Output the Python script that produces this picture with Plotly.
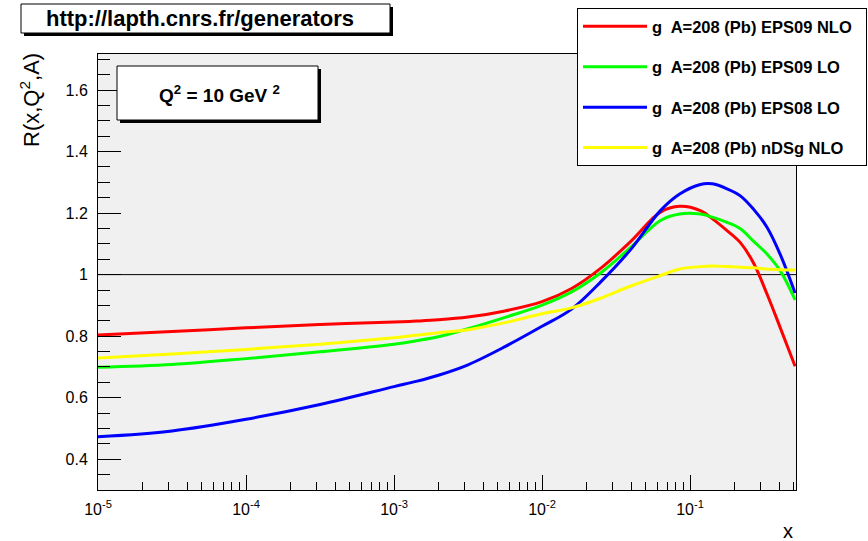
import plotly.graph_objects as go

# ---------------- data ----------------
log_x = [-5, -4.5, -4, -3.5, -3, -2.85, -2.7, -2.5, -2.25, -2, -1.8, -1.6, -1.4, -1.2,
         -1.07, -0.93, -0.85, -0.75, -0.66, -0.57, -0.48, -0.39, -0.29]
x_vals = [10 ** v for v in log_x]

r_eps09_nlo = [0.804, 0.815, 0.827, 0.838, 0.846, 0.849, 0.853, 0.862, 0.882, 0.912, 0.955, 1.022, 1.108, 1.203,
               1.222, 1.208, 1.182, 1.143, 1.104, 1.037, 0.937, 0.827, 0.702]
r_eps09_lo = [0.699, 0.708, 0.727, 0.749, 0.774, 0.785, 0.798, 0.824, 0.861, 0.901, 0.944, 1.007, 1.089, 1.176,
              1.197, 1.197, 1.187, 1.170, 1.149, 1.108, 1.067, 1.012, 0.918]
r_eps08_lo = [0.473, 0.492, 0.530, 0.578, 0.636, 0.653, 0.673, 0.707, 0.766, 0.832, 0.888, 0.978, 1.082, 1.208,
              1.262, 1.293, 1.295, 1.279, 1.256, 1.212, 1.154, 1.065, 0.940]
r_ndsg_nlo = [0.729, 0.742, 0.757, 0.774, 0.795, 0.803, 0.811, 0.821, 0.844, 0.873, 0.892, 0.924, 0.963, 0.997,
              1.018, 1.026, 1.028, 1.026, 1.024, 1.022, 1.018, 1.016, 1.015]

series_names = ["g\u00a0 A=208 (Pb) EPS09 NLO", "g\u00a0 A=208 (Pb) EPS09 LO",
                "g\u00a0 A=208 (Pb) EPS08 LO", "g\u00a0 A=208 (Pb) nDSg NLO"]
series_values = [r_eps09_nlo, r_eps09_lo, r_eps08_lo, r_ndsg_nlo]
series_colors = ["#ff0000", "#00ff00", "#0000ff", "#ffff00"]

x_tick_vals = [1e-5, 1e-4, 1e-3, 1e-2, 1e-1]
x_tick_text = ["10<sup>-5</sup>", "10<sup>-4</sup>", "10<sup>-3</sup>", "10<sup>-2</sup>", "10<sup>-1</sup>"]
y_tick_vals = [0.4, 0.6, 0.8, 1.0, 1.2, 1.4, 1.6]
y_tick_text = ["0.4", "0.6", "0.8", "1", "1.2", "1.4", "1.6"]

x_range_log = [-5, -0.284]
y_range = [0.3, 1.717]

# ---------------- geometry ----------------
W, H = 868, 541
L, R, T, B = 98, 72, 54, 51
PW, PH = W - L - R, H - T - B
FONT = "Liberation Sans, Arial, Helvetica, sans-serif"


def px(xp):
    return (xp - L) / PW


def py(yp):
    return (H - B - yp) / PH


fig = go.Figure()
for i, (name, vals, col) in enumerate(zip(series_names, series_values, series_colors)):
    fig.add_trace(go.Scatter(
        x=x_vals, y=vals, mode="lines", name="<b>" + name + "</b>\u00a0\u00a0",
        line=dict(color=col, width=3, shape="spline", smoothing=1.0),
        legendgroup=str(i), hoverinfo="skip"))

minor_x = []
for d in range(-5, 0):
    for m in range(2, 10):
        v = m * 10 ** d
        if v < 10 ** x_range_log[1]:
            minor_x.append(v)

shapes = []
# line at R = 1
shapes.append(dict(type="line", xref="paper", yref="y", x0=0, x1=1, y0=1, y1=1,
                   line=dict(color="black", width=1), layer="below"))
# title box with shadow
shapes.append(dict(type="rect", xref="paper", yref="paper", x0=px(24), x1=px(393), y0=py(36), y1=py(7),
                   fillcolor="black", line=dict(width=0)))
shapes.append(dict(type="rect", xref="paper", yref="paper", x0=px(21), x1=px(390), y0=py(33), y1=py(4),
                   fillcolor="white", line=dict(color="black", width=1)))
# Q^2 box with shadow
shapes.append(dict(type="rect", xref="paper", yref="paper", x0=px(120), x1=px(321), y0=py(123), y1=py(69),
                   fillcolor="black", line=dict(width=0)))
shapes.append(dict(type="rect", xref="paper", yref="paper", x0=px(117), x1=px(318), y0=py(120), y1=py(66),
                   fillcolor="white", line=dict(color="black", width=1)))

annotations = [
    dict(text="<b>http://lapth.cnrs.fr/generators</b>", xref="paper", yref="paper",
         x=px(200), y=py(18.5), showarrow=False, xanchor="center", yanchor="middle",
         font=dict(family=FONT, size=22, color="black")),
    dict(text="<b>Q<sup>2</sup> = 10 GeV <sup>2</sup></b>", xref="paper", yref="paper",
         x=px(219), y=py(94), showarrow=False, xanchor="center", yanchor="middle",
         font=dict(family=FONT, size=19, color="black")),
    dict(text="R(x,Q<sup>2</sup>,A)", xref="paper", yref="paper", textangle=-90,
         x=px(30), y=py(100), showarrow=False, xanchor="center", yanchor="middle",
         font=dict(family=FONT, size=22, color="black")),
    dict(text="x", xref="paper", yref="paper",
         x=px(788), y=py(531), showarrow=False, xanchor="center", yanchor="middle",
         font=dict(family=FONT, size=20, color="black")),
]

fig.update_layout(
    width=W, height=H,
    margin=dict(l=L, r=R, t=T, b=B, autoexpand=False),
    paper_bgcolor="white", plot_bgcolor="#f0f0f0",
    font=dict(family=FONT, size=16, color="black"),
    showlegend=True,
    legend=dict(x=px(577), y=py(8), xanchor="left", yanchor="top",
                bgcolor="white", bordercolor="black", borderwidth=1,
                font=dict(family=FONT, size=16.5, color="black"),
                tracegroupgap=16, itemwidth=64),
    shapes=shapes, annotations=annotations,
    xaxis=dict(type="log", range=x_range_log, showgrid=False, zeroline=False,
               showline=True, linecolor="black", linewidth=1, mirror=True,
               ticks="inside", ticklen=15, tickcolor="black",
               tickvals=x_tick_vals, ticktext=x_tick_text, ticklabelstandoff=5,
               tickfont=dict(family=FONT, size=16),
               minor=dict(tickvals=minor_x, ticks="inside", ticklen=8, tickcolor="black", showgrid=False)),
    yaxis=dict(range=y_range, showgrid=False, zeroline=False,
               showline=True, linecolor="black", linewidth=1, mirror=True,
               ticks="inside", ticklen=23, tickcolor="black",
               tickvals=y_tick_vals, ticktext=y_tick_text, ticklabelstandoff=6,
               tickfont=dict(family=FONT, size=16),
               minor=dict(dtick=0.05, tick0=0.4, ticks="inside", ticklen=12, tickcolor="black", showgrid=False)),
)

fig.write_html("out.html")
